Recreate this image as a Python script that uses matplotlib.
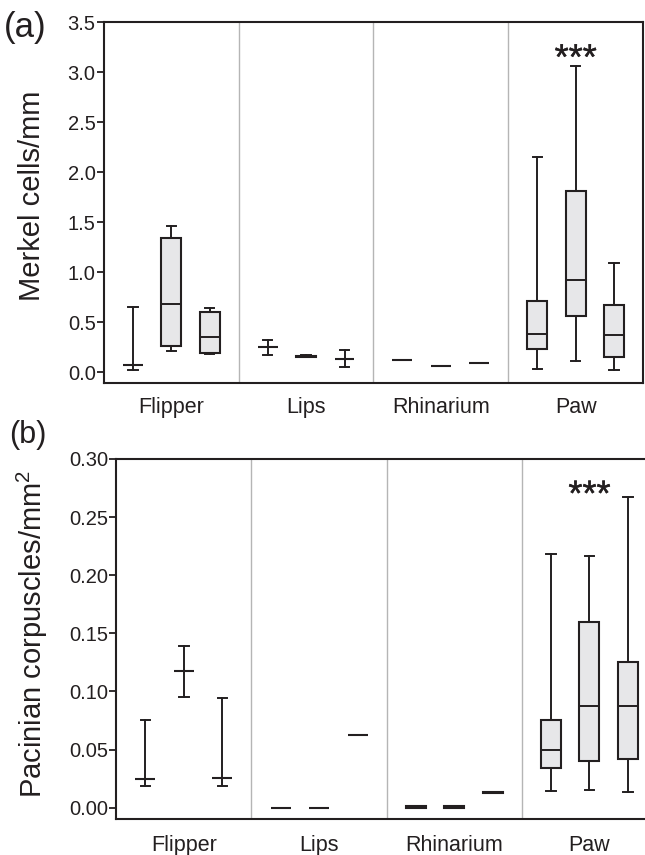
import matplotlib
matplotlib.use("Agg")
import matplotlib.pyplot as plt
import matplotlib.patheffects as pe
import numpy as np

plt.rcParams['font.family'] = ['Liberation Sans', 'DejaVu Sans']
plt.rcParams['mathtext.fontset'] = 'custom'
plt.rcParams['mathtext.rm'] = 'Liberation Sans'
plt.rcParams['mathtext.it'] = 'Liberation Sans:italic'

# categorias (3 cajas por region)
regions = ["Flipper", "Lips", "Rhinarium", "Paw"]

# (a) celulas de Merkel / mm
merkel_whislo = [0.02, 0.21, 0.18, 0.175, 0.15, 0.05, 0.12, 0.066, 0.096, 0.036, 0.113, 0.026]
merkel_q1 = [0.07, 0.26, 0.195, 0.255, 0.155, 0.13, 0.12, 0.066, 0.096, 0.23, 0.565, 0.155]
merkel_med = [0.07, 0.68, 0.35, 0.255, 0.16, 0.13, 0.12, 0.066, 0.096, 0.385, 0.92, 0.37]
merkel_q3 = [0.07, 1.34, 0.605, 0.255, 0.165, 0.13, 0.12, 0.066, 0.096, 0.715, 1.81, 0.675]
merkel_whishi = [0.65, 1.46, 0.64, 0.325, 0.17, 0.22, 0.12, 0.066, 0.096, 2.15, 3.06, 1.09]

# (b) corpusculos de Pacini / mm2
pacini_whislo = [0.019, 0.0955, 0.0187, 0.0, 0.0, 0.0628, 0.0, 0.0, 0.0133, 0.0141, 0.015, 0.0133]
pacini_q1 = [0.0244, 0.1176, 0.0256, 0.0, 0.0, 0.0628, 0.0, 0.0, 0.0128, 0.0339, 0.0402, 0.0416]
pacini_med = [0.0244, 0.1176, 0.0256, 0.0, 0.0, 0.0628, 0.0, 0.0, 0.0133, 0.0494, 0.0875, 0.0875]
pacini_q3 = [0.0244, 0.1176, 0.0256, 0.0, 0.0, 0.0628, 0.0018, 0.0018, 0.0138, 0.0752, 0.160, 0.1256]
pacini_whishi = [0.0755, 0.139, 0.0947, 0.0, 0.0, 0.0628, 0.0, 0.0, 0.0133, 0.2183, 0.2166, 0.2676]

dark = "#231f20"
face = "#e7e7e9"
sep = "#b5b5b5"

positions = [g + (k - 1) * 0.285 for g in range(4) for k in range(3)]


def panel(ax, whislo, q1, med, q3, whishi, ylim, yticks, fmt, ylabel, star_y, labcoord, pad):
    stats = []
    for i in range(len(med)):
        stats.append(dict(whislo=whislo[i], q1=q1[i], med=med[i], q3=q3[i], whishi=whishi[i]))
    ax.bxp(stats, positions=positions, widths=0.148, capwidths=0.07, showfliers=False,
           patch_artist=True,
           boxprops=dict(facecolor=face, edgecolor=dark, linewidth=1.5),
           medianprops=dict(color=dark, linewidth=1.4),
           whiskerprops=dict(color=dark, linewidth=1.4),
           capprops=dict(color=dark, linewidth=1.4))
    for x in [0.5, 1.5, 2.5]:
        ax.axvline(x, color=sep, linewidth=1.0, zorder=0)
    ax.set_xlim(-0.5, 3.5)
    ax.set_ylim(*ylim)
    ax.set_yticks(yticks)
    ax.set_yticklabels([fmt % v for v in yticks])
    ax.set_xticks(range(4))
    ax.set_xticklabels(regions, fontsize=15.5, color=dark)
    ax.tick_params(axis='x', length=0, pad=pad)
    ax.tick_params(axis='y', length=5, width=1.3, color=dark, pad=1, labelsize=14.5, labelcolor=dark)
    for s in ax.spines.values():
        s.set_color(dark)
        s.set_linewidth(1.5)
    ax.set_ylabel(ylabel, fontsize=21, color=dark, va='center')
    ax.yaxis.set_label_coords(*labcoord)
    ax.text(3, star_y, "***", fontsize=26, ha='center', va='baseline', color=dark,
            path_effects=[pe.withStroke(linewidth=0.3, foreground=dark)])


fig = plt.figure(figsize=(6.45, 8.55), dpi=100)
ax1 = fig.add_axes([0.1612, 0.5520, 0.8357, 0.4222])
ax2 = fig.add_axes([0.1803, 0.0421, 0.8383, 0.4211])

panel(ax1, merkel_whislo, merkel_q1, merkel_med, merkel_q3, merkel_whishi,
      (-0.107, 3.5), np.arange(0, 3.51, 0.5), "%.1f", "Merkel cells/mm",
      3.03, (-0.1336, 0.518), 10)
panel(ax2, pacini_whislo, pacini_q1, pacini_med, pacini_q3, pacini_whishi,
      (-0.0097, 0.30), np.arange(0, 0.301, 0.05), "%.2f", "Pacinian corpuscles/mm$^2$",
      0.260, (-0.1558, 0.514), 11.5)

fig.text(25 / 645, 1 - 27 / 855, "(a)", fontsize=25, ha='center', va='center', color=dark)
fig.text(28 / 645, 1 - 435 / 855, "(b)", fontsize=22, ha='center', va='center', color=dark)

fig.savefig("out.png", dpi=100)
